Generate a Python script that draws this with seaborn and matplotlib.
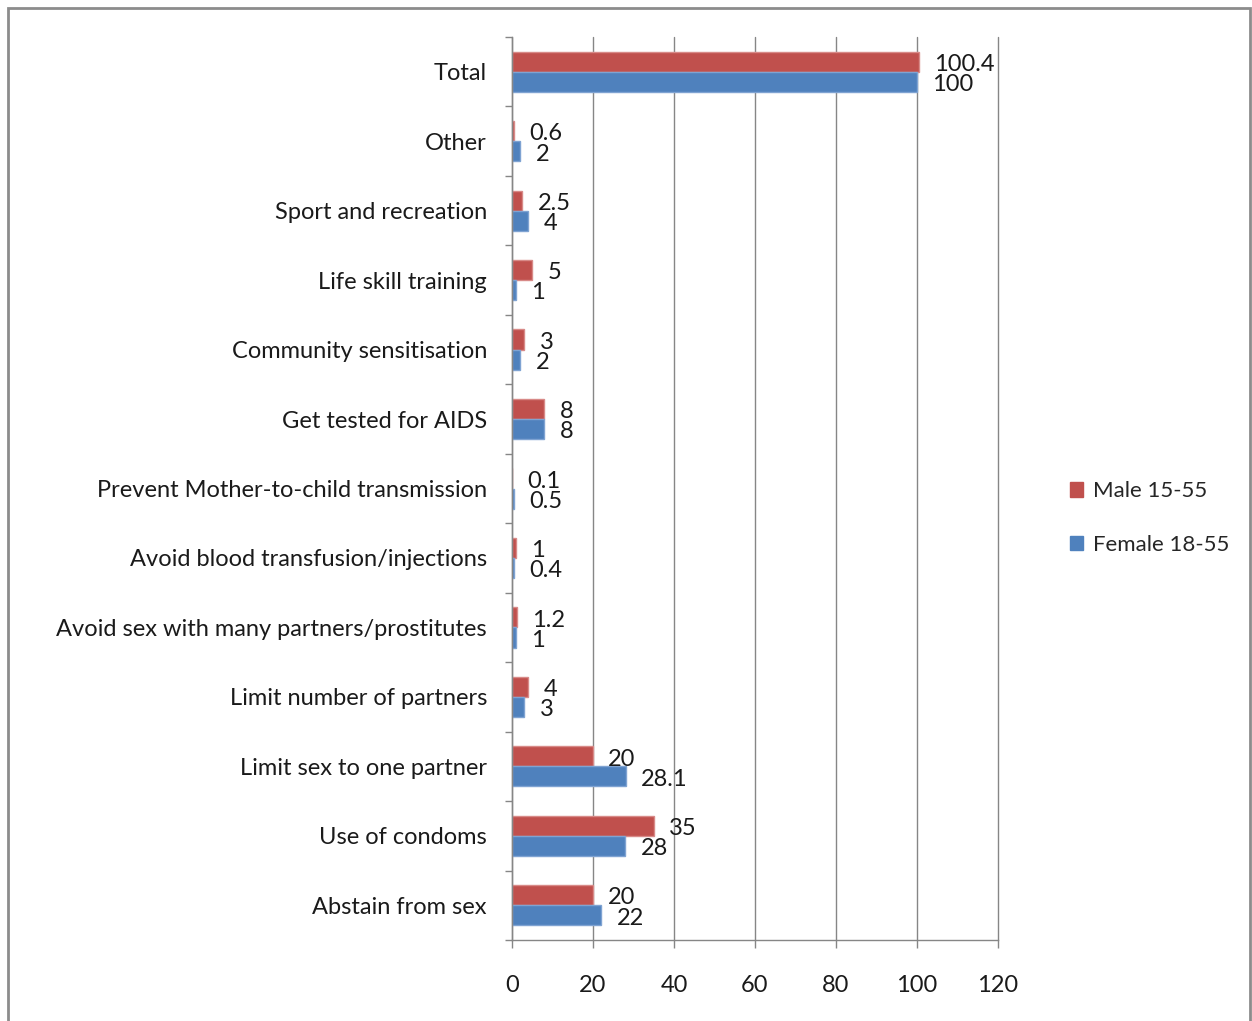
import pandas as pd
import matplotlib
matplotlib.use("Agg")
import matplotlib.pyplot as plt
import seaborn as sns
import numpy as np
from matplotlib.patches import Rectangle, Patch
from matplotlib.ticker import FixedLocator

# Data (top to bottom)
categories = ['Total', 'Other', 'Sport and recreation', 'Life skill training',
              'Community sensitisation', 'Get tested for AIDS',
              'Prevent Mother-to-child transmission',
              'Avoid blood transfusion/injections',
              'Avoid sex with many partners/prostitutes',
              'Limit number of partners', 'Limit sex to one partner',
              'Use of condoms', 'Abstain from sex']
male = [100.4, 0.6, 2.5, 5, 3, 8, 0.1, 1, 1.2, 4, 20, 35, 20]
female = [100, 2, 4, 1, 2, 8, 0.5, 0.4, 1, 3, 28.1, 28, 22]
series = ['Male 15-55', 'Female 18-55']
colors = ['#C0504D', '#4F81BD']
xticks = [0, 20, 40, 60, 80, 100, 120]

df = pd.DataFrame({
    'Category': categories * 2,
    'Value': male + female,
    'Group': [series[0]] * len(categories) + [series[1]] * len(categories),
})

sns.set_style('white')
plt.rcParams['font.family'] = ['Lato', 'DejaVu Sans']
fs = 17

fig = plt.figure(figsize=(12.52, 10.21), dpi=100)
ax = fig.add_axes([512 / 1252, 1 - 940 / 1021, 486 / 1252, 903 / 1021])

sns.barplot(data=df, x='Value', y='Category', hue='Group', order=categories,
            hue_order=series, palette=colors, orient='h', width=0.58,
            saturation=1, ax=ax, legend=False, linewidth=1)

# light outline like the original, so tiny bars still show
for cont, c in zip(ax.containers, ['#D88A88', '#7FA3D2']):
    for bar in cont:
        bar.set_edgecolor(c)
    labels = ax.bar_label(cont, fmt='%g', padding=11, fontsize=fs, color='#1a1a1a')
    for t in labels:
        t.xyann = (11, -2)

grey = '#868686'
ax.set_xlim(0, 120)
ax.set_xticks(xticks)
ax.set_axisbelow(True)
ax.xaxis.grid(True, color=grey, lw=1)
for gl in ax.get_xgridlines():
    gl.set_clip_on(False)
ax.yaxis.grid(False)
ax.set_xlabel('')
ax.set_ylabel('')

for s in ['top', 'right']:
    ax.spines[s].set_visible(False)
for s in ['left', 'bottom']:
    ax.spines[s].set_color(grey)
    ax.spines[s].set_linewidth(1)

n = len(categories)
ax.set_ylim(n - 0.5, -0.5)
ax.yaxis.set_minor_locator(FixedLocator(np.arange(-0.5, n, 1.0)))
ax.tick_params(axis='y', which='major', length=0, pad=18, labelsize=fs,
               labelcolor='#1a1a1a')
ax.tick_params(axis='y', which='minor', length=5, color=grey, width=1, left=True)
ax.tick_params(axis='x', which='major', length=6, color=grey, width=1,
               bottom=True, pad=19, labelsize=fs, labelcolor='#1a1a1a')

handles = [Patch(facecolor=c, edgecolor=c) for c in colors]
fig.legend(handles, series, loc='center left', bbox_to_anchor=(1050 / 1252, 1 - 518 / 1021),
           frameon=False, fontsize=16, handlelength=0.6, handleheight=0.6,
           handletextpad=0.45, labelspacing=1.5)

fig.patches.append(Rectangle((8 / 1252, -0.02), 1242 / 1252, 1.02 - 8 / 1021,
                             transform=fig.transFigure, fill=False,
                             edgecolor='#8c8c8c', lw=2))

fig.savefig('out.png', dpi=100)
